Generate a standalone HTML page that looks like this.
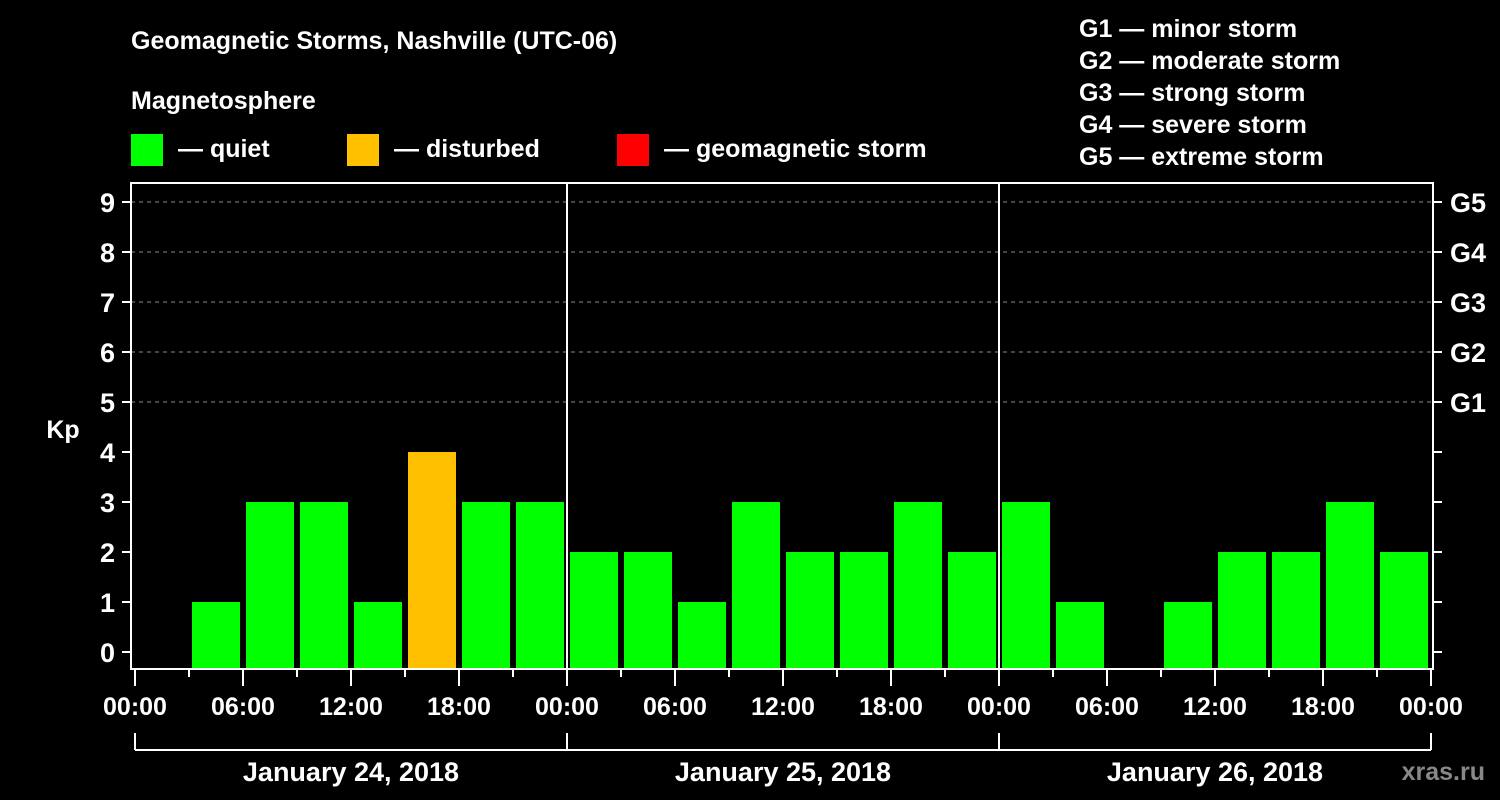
<!DOCTYPE html>
<html><head><meta charset="utf-8"><style>
html,body{margin:0;padding:0;background:#000;}
svg{display:block;font-family:"Liberation Sans",Arial,sans-serif;font-weight:bold;}
</style></head><body>
<svg id="chart" width="1500" height="800" viewBox="0 0 1500 800" xmlns="http://www.w3.org/2000/svg">
<rect width="1500" height="800" fill="#000"/>
<text x="131" y="49" fill="#fff" font-size="25">Geomagnetic Storms, Nashville (UTC-06)</text>
<text x="131" y="109" fill="#fff" font-size="25">Magnetosphere</text>
<g><rect x="131" y="134" width="32" height="32" fill="#00ff00"/><text x="178" y="157" fill="#fff" font-size="25">— quiet</text></g>
<g><rect x="347" y="134" width="32" height="32" fill="#ffc000"/><text x="394" y="157" fill="#fff" font-size="25">— disturbed</text></g>
<g><rect x="617" y="134" width="32" height="32" fill="#ff0000"/><text x="664" y="157" fill="#fff" font-size="25">— geomagnetic storm</text></g>
<g fill="#fff" font-size="25">
<text x="1079" y="37">G1 — minor storm</text>
<text x="1079" y="69">G2 — moderate storm</text>
<text x="1079" y="101">G3 — strong storm</text>
<text x="1079" y="133">G4 — severe storm</text>
<text x="1079" y="165">G5 — extreme storm</text>
</g>
<text x="63" y="438" fill="#fff" font-size="25" text-anchor="middle">Kp</text>
<g id="grid"></g>
<g id="bars"></g>
<g id="axes"></g>
<text x="1485" y="780" fill="#888" font-size="25" text-anchor="end">xras.ru</text>
</svg>
<script>
const kpValues = [null,1,3,3,1,4,3,3, 2,2,1,3,2,2,3,2, 3,1,null,1,2,2,3,2];
const yTicks = [0,1,2,3,4,5,6,7,8,9];
const gLabels = ["G1","G2","G3","G4","G5"];
const gLevels = [5,6,7,8,9];
const xLabels = ["00:00","06:00","12:00","18:00","00:00","06:00","12:00","18:00","00:00","06:00","12:00","18:00","00:00"];
const dayLabels = ["January 24, 2018","January 25, 2018","January 26, 2018"];

const NS="http://www.w3.org/2000/svg";
const X0=135, SLOT=54, Y0=652, UNIT=50, LEFT=131, RIGHT=1433, TOP=183, BOTTOM=669;
const xPos = i => X0 + i*SLOT;
const yPos = v => Y0 - v*UNIT;
function mk(tag, attrs, parent, text){
  const e=document.createElementNS(NS,tag);
  for(const k in attrs) e.setAttribute(k,attrs[k]);
  if(text!==undefined) e.textContent=text;
  parent.appendChild(e); return e;
}
const grid=document.getElementById('grid'), bars=document.getElementById('bars'), axes=document.getElementById('axes');
gLevels.forEach((v,i)=>{
  const l=mk('line',{x1:LEFT,x2:RIGHT,y1:yPos(v),y2:yPos(v),stroke:'#888','stroke-width':1,'stroke-dasharray':'4,4'},grid);
  
  
  const t=mk('text',{x:1450,y:yPos(v)+10,fill:'#fff','font-size':27},axes,gLabels[i]);
  
  
});
kpValues.forEach((v,i)=>{
  if(v===null) return;
  const r=mk('rect',{x:xPos(i)+3,y:yPos(v),width:48,height:BOTTOM-1-yPos(v),fill:v>=5?'#ff0000':(v>=4?'#ffc000':'#00ff00')},bars);
  
  
});
const frame=mk('rect',{x:LEFT,y:TOP,width:RIGHT-LEFT,height:BOTTOM-TOP,fill:'none',stroke:'#fff','stroke-width':2},axes);


[1,2].forEach(d=>{
  const l=mk('line',{x1:xPos(d*8),x2:xPos(d*8),y1:TOP,y2:BOTTOM,stroke:'#fff','stroke-width':2},axes);
  
  
});
yTicks.forEach(v=>{
  mk('line',{x1:122,x2:LEFT,y1:yPos(v),y2:yPos(v),stroke:'#fff','stroke-width':2},axes);
  mk('line',{x1:RIGHT,x2:1442,y1:yPos(v),y2:yPos(v),stroke:'#fff','stroke-width':2},axes);
  const t=mk('text',{x:115,y:yPos(v)+10,fill:'#fff','font-size':27,'text-anchor':'end'},axes,String(v));
  
  
});
for(let i=0;i<=24;i++){
  mk('line',{x1:xPos(i),x2:xPos(i),y1:BOTTOM,y2:i%2===0?686:677,stroke:'#fff','stroke-width':2},axes);
}
xLabels.forEach((s,i)=>{
  const t=mk('text',{x:xPos(i*2),y:715,fill:'#fff','font-size':25,'text-anchor':'middle'},axes,s);
  
  
});
mk('line',{x1:xPos(0),x2:xPos(24),y1:750,y2:750,stroke:'#fff','stroke-width':2},axes);
for(let d=0;d<=3;d++) mk('line',{x1:xPos(d*8),x2:xPos(d*8),y1:733,y2:750,stroke:'#fff','stroke-width':2},axes);
dayLabels.forEach((s,d)=>{
  const t=mk('text',{x:xPos(d*8+4),y:781,fill:'#fff','font-size':27,'text-anchor':'middle'},axes,s);
  
  
});
</script>
</body></html>
